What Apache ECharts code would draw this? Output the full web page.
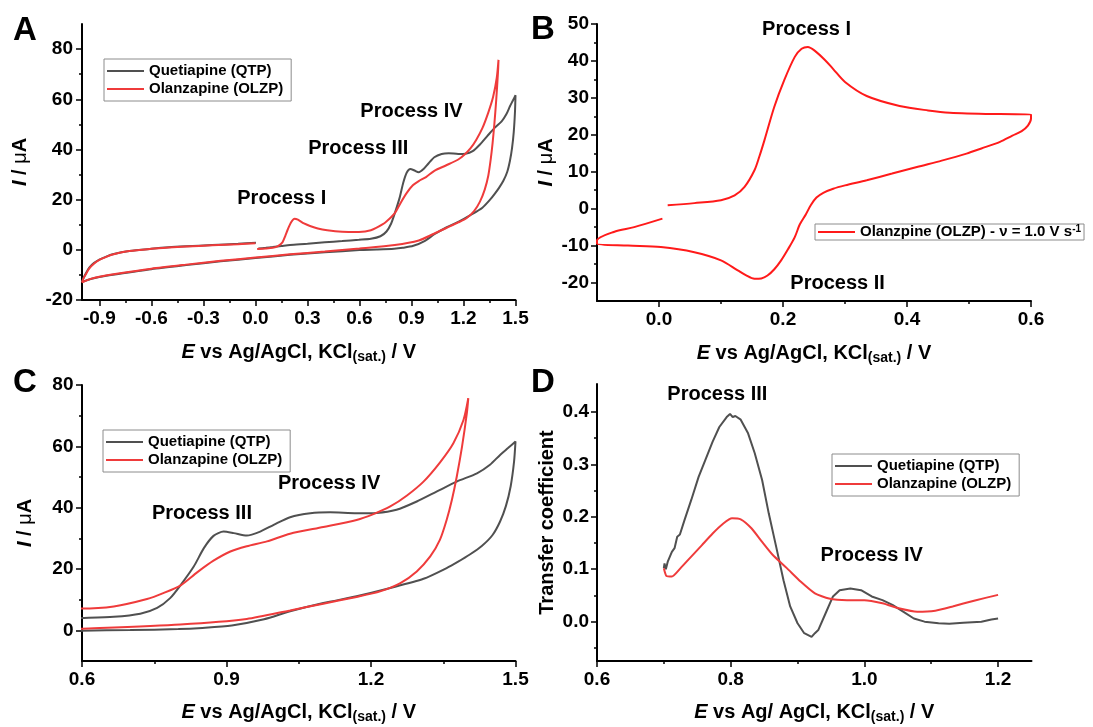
<!DOCTYPE html>
<html>
<head>
<meta charset="utf-8">
<script src="https://cdn.jsdelivr.net/npm/echarts@6/dist/echarts.min.js"></script>
<style>
  html, body { margin: 0; padding: 0; background: #fff; }
  #chart { width: 1093px; height: 727px; }
</style>
</head>
<body>
<div id="chart"></div>
<script>
// ---------------- data ----------------
// Cyclic voltammograms, [E (V), I (µA)] in scan order
const qtpCV = [
  [0.017, 0.5], [0.06, 0.8], [0.1, 1.1], [0.15, 1.5], [0.2, 1.9], [0.3, 2.4], [0.4, 3.0], [0.5, 3.5],
  [0.597, 4.0], [0.666, 4.4], [0.721, 5.4], [0.756, 7.3], [0.783, 10.5], [0.804, 14.6], [0.832, 20.8],
  [0.853, 26.8], [0.873, 30.8], [0.894, 32.2], [0.915, 31.7], [0.942, 30.9], [0.970, 32.2], [0.998, 34.4],
  [1.032, 36.9], [1.074, 38.2], [1.115, 38.5], [1.170, 38.2], [1.212, 38.3], [1.253, 39.3], [1.295, 42.0],
  [1.337, 45.3], [1.378, 48.5], [1.420, 51.2], [1.447, 54.0], [1.468, 57.2], [1.485, 59.5], [1.5, 61.6],
  [1.497, 55.0], [1.490, 47.0], [1.480, 40.5], [1.468, 35.5], [1.452, 31.0], [1.430, 27.5], [1.406, 24.8],
  [1.380, 22.3], [1.357, 20.3], [1.309, 16.8], [1.240, 13.8], [1.170, 11.1], [1.101, 8.9], [1.032, 6.2],
  [0.978, 3.6], [0.911, 1.6], [0.85, 0.8], [0.8, 0.4], [0.7, 0.1], [0.6, -0.1], [0.4, -1.0], [0.2, -2.0],
  [0.0, -3.3], [-0.2, -4.6], [-0.4, -6.1], [-0.6, -7.7], [-0.8, -9.7], [-0.9, -10.8], [-0.95, -11.6],
  [-1.0, -12.8], [-0.99, -11.0], [-0.975, -9.0], [-0.957, -7.0], [-0.93, -5.2], [-0.9, -3.9], [-0.86, -2.7],
  [-0.823, -1.8], [-0.727, -0.5], [-0.6, 0.4], [-0.5, 1.0], [-0.4, 1.4], [-0.25, 1.9], [-0.1, 2.4], [0.003, 2.8]
];
const olzpCV = [
  [0.01, 0.3], [0.06, 0.5], [0.1, 0.8], [0.13, 1.5], [0.156, 3.0], [0.172, 5.5], [0.186, 8.0], [0.206, 11.0],
  [0.226, 12.4], [0.245, 12.0], [0.28, 10.5], [0.315, 9.5], [0.36, 8.5], [0.414, 7.8], [0.5, 7.2],
  [0.597, 7.1], [0.666, 7.8], [0.735, 10.2], [0.770, 12.2], [0.804, 14.6], [0.839, 18.9], [0.873, 22.7],
  [0.908, 25.7], [0.942, 27.4], [0.984, 29.0], [1.032, 31.5], [1.101, 33.7], [1.170, 36.0], [1.205, 37.9],
  [1.240, 40.4], [1.274, 43.9], [1.309, 48.5], [1.343, 54.7], [1.371, 61.0], [1.392, 68.6], [1.402, 75.7],
  [1.399, 70.8], [1.389, 59.9], [1.378, 50.1], [1.368, 42.6], [1.357, 36.0], [1.343, 29.5], [1.323, 24.1],
  [1.295, 19.2], [1.261, 15.4], [1.219, 12.7], [1.170, 10.9], [1.101, 8.7], [1.032, 6.5], [0.942, 3.7],
  [0.804, 1.9], [0.6, 0.5], [0.4, -0.7], [0.2, -1.8], [0.0, -3.1], [-0.2, -4.4], [-0.4, -5.9], [-0.6, -7.5],
  [-0.8, -9.5], [-0.9, -10.7], [-0.95, -11.6], [-1.0, -13.0], [-0.99, -11.2], [-0.975, -9.4], [-0.96, -7.6],
  [-0.93, -5.5], [-0.9, -4.0], [-0.86, -2.8], [-0.823, -1.9], [-0.727, -0.5], [-0.6, 0.4], [-0.5, 0.9],
  [-0.4, 1.3], [-0.25, 1.8], [-0.1, 2.2], [0.0, 2.6]
];
// OLZP at 1.0 V s-1
const olzpFast = [
  [0.014, 0.9], [0.057, 1.5], [0.100, 2.3], [0.122, 3.6], [0.138, 5.9], [0.154, 10.4], [0.162, 14.2],
  [0.170, 18.5], [0.186, 27.6], [0.202, 34.8], [0.219, 41.1], [0.230, 43.3], [0.240, 43.8], [0.251, 42.8],
  [0.268, 40.2], [0.281, 37.8], [0.300, 34.3], [0.335, 30.5], [0.388, 27.8], [0.434, 26.6], [0.469, 26.0],
  [0.550, 25.6], [0.600, 25.5],
  [0.600, 24.4], [0.595, 22.5], [0.585, 21.0], [0.570, 19.8], [0.550, 18.1], [0.520, 16.3], [0.496, 14.9],
  [0.456, 13.0], [0.416, 11.3], [0.376, 9.5], [0.335, 7.7], [0.300, 6.3], [0.281, 5.4], [0.265, 4.3],
  [0.254, 3.0], [0.245, 1.0], [0.237, -1.5], [0.227, -4.3], [0.219, -7.7], [0.208, -11.0], [0.197, -14.0],
  [0.186, -16.4], [0.175, -18.1], [0.165, -18.9], [0.154, -19.0], [0.140, -18.0], [0.127, -16.7],
  [0.100, -14.0], [0.057, -11.8], [0.003, -10.4], [-0.05, -10.0], [-0.1, -9.5],
  [-0.1, -8.6], [-0.073, -6.3], [-0.040, -5.0], [0.0055, -2.7]
];
// Transfer coefficient vs potential
const qtpAlpha = [
  [0.700, 0.102], [0.701, 0.111], [0.703, 0.100], [0.706, 0.115], [0.712, 0.133], [0.716, 0.140],
  [0.720, 0.162], [0.724, 0.166], [0.731, 0.194], [0.741, 0.232], [0.752, 0.276], [0.762, 0.308],
  [0.773, 0.343], [0.783, 0.371], [0.794, 0.390], [0.799, 0.396], [0.803, 0.390], [0.807, 0.392],
  [0.815, 0.385], [0.826, 0.359], [0.836, 0.321], [0.847, 0.270], [0.857, 0.206], [0.868, 0.143],
  [0.879, 0.079], [0.889, 0.029], [0.900, -0.003], [0.910, -0.022], [0.921, -0.029], [0.926, -0.022],
  [0.931, -0.016], [0.942, 0.016], [0.953, 0.048], [0.963, 0.060], [0.979, 0.063], [0.995, 0.060],
  [1.011, 0.048], [1.027, 0.041], [1.042, 0.032], [1.058, 0.019], [1.074, 0.006], [1.090, 0.000],
  [1.111, -0.003], [1.127, -0.004], [1.148, -0.002], [1.175, 0.000], [1.190, 0.004], [1.200, 0.006]
];
const olzpAlpha = [
  [0.700, 0.102], [0.704, 0.087], [0.712, 0.086], [0.725, 0.102], [0.741, 0.124], [0.757, 0.146],
  [0.773, 0.168], [0.789, 0.187], [0.802, 0.197], [0.815, 0.195], [0.831, 0.178], [0.847, 0.152],
  [0.863, 0.127], [0.884, 0.102], [0.905, 0.076], [0.926, 0.054], [0.947, 0.044], [0.974, 0.041],
  [1.000, 0.041], [1.027, 0.035], [1.053, 0.025], [1.079, 0.019], [1.106, 0.021], [1.132, 0.029],
  [1.164, 0.040], [1.200, 0.051]
];

// Tick values (major / minor) for each panel
const ticksAx = [-0.9, -0.6, -0.3, 0, 0.3, 0.6, 0.9, 1.2, 1.5];
const minorAx = [-0.75, -0.45, -0.15, 0.15, 0.45, 0.75, 1.05, 1.35];
const ticksAy = [-20, 0, 20, 40, 60, 80];
const minorAy = [-10, 10, 30, 50, 70];
const ticksBx = [0, 0.2, 0.4, 0.6];
const minorBx = [0.1, 0.3, 0.5];
const ticksBy = [-20, -10, 0, 10, 20, 30, 40, 50];
const minorBy = [-15, -5, 5, 15, 25, 35, 45];
const ticksCx = [0.6, 0.9, 1.2, 1.5];
const minorCx = [0.75, 1.05, 1.35];
const ticksCy = [0, 20, 40, 60, 80];
const minorCy = [10, 30, 50, 70];
const ticksDx = [0.6, 0.8, 1.0, 1.2];
const minorDx = [0.7, 0.9, 1.1];
const ticksDy = [0, 0.1, 0.2, 0.3, 0.4];
const minorDy = [-0.05, 0.05, 0.15, 0.25, 0.35];

// Annotations: [text, E, value]
const notesA = [['Process I', 0.152, 20.4], ['Process III', 0.593, 40.2], ['Process IV', 0.90, 55.1]];
const notesB = [['Process I', 0.238, 48.4], ['Process II', 0.288, -20.2]];
const notesC = [['Process III', 0.849, 38.0], ['Process IV', 1.113, 47.8]];
const notesD = [['Process III', 0.780, 0.433], ['Process IV', 1.011, 0.126]];

const QTP = 'Quetiapine (QTP)';
const OLZP = 'Olanzapine (OLZP)';
const OLZP_FAST = 'Olanzpine (OLZP) - ν = 1.0 V s-1';

// ---------------- styling helpers ----------------
const FONT = "'Liberation Sans', Arial, Helvetica, sans-serif";
const GRAY = '#505050';
const RED = '#ef3b3b';
const fmt1 = v => (Math.abs(v) < 1e-9 ? 0 : v).toFixed(1);
const fmt0 = v => String(Math.round(v));

const txt = (size, extra) => Object.assign({ fontFamily: FONT, fontSize: size, fontWeight: 'bold', color: '#000' }, extra || {});

const xTitleRich = {
  i: txt(20, { fontStyle: 'italic', lineHeight: 24 }),
  b: txt(20, { lineHeight: 24 }),
  s: txt(14, { lineHeight: 12, verticalAlign: 'bottom' })
};
const yTitleRich = {
  i: txt(20, { fontStyle: 'italic', lineHeight: 22 }),
  b: txt(20, { lineHeight: 22 }),
  m: txt(20, { fontWeight: 'normal', lineHeight: 22 })
};
const xTitle = '{i|E}{b| vs Ag/AgCl, KCl}{s|(sat.)}{b| / V}';
const xTitleD = '{i|E}{b| vs Ag/ AgCl, KCl}{s|(sat.)}{b| / V}';
const yTitle = '{i|I}{b| / }{m|μ}{b|A}';

function axisPair(dim, gridIndex, min, max, major, minor, fmt, name, nameGap, rich, margin) {
  const pos = dim === 'x' ? 'bottom' : 'left';
  const main = {
    type: 'value', gridIndex, min, max, position: pos,
    splitLine: { show: false },
    axisLine: { show: true, onZero: false, lineStyle: { color: '#000', width: 2 } },
    axisTick: { show: true, customValues: major, length: 6, lineStyle: { color: '#000', width: 1.5 } },
    axisLabel: Object.assign({ show: true, customValues: major, formatter: fmt, margin }, txt(19)),
    name, nameLocation: 'middle', nameGap,
    nameTextStyle: Object.assign(txt(20), { rich })
  };
  const sub = {
    type: 'value', gridIndex, min, max, position: pos,
    splitLine: { show: false },
    axisLine: { show: false, onZero: false },
    axisTick: { show: true, customValues: minor, length: 3, lineStyle: { color: '#000', width: 1.5 } },
    axisLabel: { show: false }
  };
  return [main, sub];
}

const xAxes = [].concat(
  axisPair('x', 0, -1.0, 1.5, ticksAx, minorAx, fmt1, xTitle, 40, xTitleRich, 9),
  axisPair('x', 1, -0.1, 0.6, ticksBx, minorBx, fmt1, xTitle, 40, xTitleRich, 9),
  axisPair('x', 2, 0.6, 1.5, ticksCx, minorCx, fmt1, xTitle, 39, xTitleRich, 9),
  axisPair('x', 3, 0.6, 1.25, ticksDx, minorDx, fmt1, xTitleD, 39, xTitleRich, 9)
);
const yAxes = [].concat(
  axisPair('y', 0, -20, 90, ticksAy, minorAy, fmt0, yTitle, 51, yTitleRich, 9),
  axisPair('y', 1, -25, 50, ticksBy, minorBy, fmt0, yTitle, 40, yTitleRich, 8),
  axisPair('y', 2, -10, 80, ticksCy, minorCy, fmt0, yTitle, 46, yTitleRich, 8.5),
  axisPair('y', 3, -0.075, 0.453, ticksDy, minorDy, fmt1, 'Transfer coefficient', 40, {}, 8)
);

function curve(name, data, panel, color, smooth) {
  return {
    type: 'line', name, data, xAxisIndex: panel * 2, yAxisIndex: panel * 2,
    symbol: 'none', showSymbol: false, smooth: smooth, clip: true, silent: true,
    lineStyle: { color, width: 2 }, itemStyle: { color }
  };
}
function notes(list, panel) {
  return {
    type: 'scatter', xAxisIndex: panel * 2, yAxisIndex: panel * 2, silent: true, clip: false,
    symbolSize: 0, z: 5, itemStyle: { opacity: 0 },
    data: list.map(n => ({ name: n[0], value: [n[1], n[2]] })),
    label: Object.assign({
      show: true, position: 'inside', formatter: '{b}',
      textBorderWidth: 0, textBorderColor: 'transparent', textShadowBlur: 0, opacity: 1
    }, txt(20, { color: '#000' }))
  };
}

const legendBase = {
  orient: 'vertical', selectedMode: false, itemWidth: 37, itemHeight: 14, itemGap: 2,
  borderColor: '#8c8c8c', borderWidth: 1, backgroundColor: '#fff',
  itemStyle: { opacity: 0 },
  textStyle: txt(15, { lineHeight: 16 })
};

const option = {
  backgroundColor: '#fff',
  animation: false,
  grid: [
    { left: 82, top: 24, width: 433.5, height: 276, outerBoundsMode: 'none' },
    { left: 597, top: 24, width: 434, height: 277, outerBoundsMode: 'none' },
    { left: 82, top: 385, width: 433.5, height: 276, outerBoundsMode: 'none' },
    { left: 597, top: 384, width: 434.5, height: 277, outerBoundsMode: 'none' }
  ],
  xAxis: xAxes,
  yAxis: yAxes,
  legend: [
    Object.assign({}, legendBase, { data: [QTP, OLZP], left: 104, top: 59, padding: [4, 8, 4, 2] }),
    Object.assign({}, legendBase, {
      data: [OLZP_FAST], left: 815, top: 224, padding: [0, 3, 0, 2],
      formatter: name => '{n|' + name.slice(0, -2) + '}{sup|-1}',
      textStyle: txt(15, { lineHeight: 16, rich: { n: txt(15, { lineHeight: 16 }), sup: txt(10, { lineHeight: 10, verticalAlign: 'top' }) } })
    }),
    Object.assign({}, legendBase, { data: [QTP, OLZP], left: 103, top: 430, padding: [4, 8, 4, 2] }),
    Object.assign({}, legendBase, { data: [QTP, OLZP], left: 832, top: 454, padding: [4, 8, 4, 2] })
  ],
  graphic: [
    { type: 'text', style: { x: 25, y: 31, text: 'A', align: 'center', verticalAlign: 'middle', font: 'bold 33px ' + FONT, fill: '#000' } },
    { type: 'text', style: { x: 543, y: 30, text: 'B', align: 'center', verticalAlign: 'middle', font: 'bold 33px ' + FONT, fill: '#000' } },
    { type: 'text', style: { x: 25, y: 383, text: 'C', align: 'center', verticalAlign: 'middle', font: 'bold 33px ' + FONT, fill: '#000' } },
    { type: 'text', style: { x: 543, y: 383, text: 'D', align: 'center', verticalAlign: 'middle', font: 'bold 33px ' + FONT, fill: '#000' } }
  ],
  series: [
    curve(QTP, qtpCV, 0, GRAY, 0.25),
    curve(OLZP, olzpCV, 0, RED, 0.25),
    notes(notesA, 0),
    curve(OLZP_FAST, olzpFast, 1, '#ff1a1a', 0.3),
    notes(notesB, 1),
    curve(QTP, qtpCV, 2, GRAY, 0.25),
    curve(OLZP, olzpCV, 2, RED, 0.25),
    notes(notesC, 2),
    curve(QTP, qtpAlpha, 3, GRAY, false),
    curve(OLZP, olzpAlpha, 3, RED, 0.2),
    notes(notesD, 3)
  ]
};

const chart = echarts.init(document.getElementById('chart'), null, { renderer: 'canvas' });
chart.setOption(option);
</script>
</body>
</html>
